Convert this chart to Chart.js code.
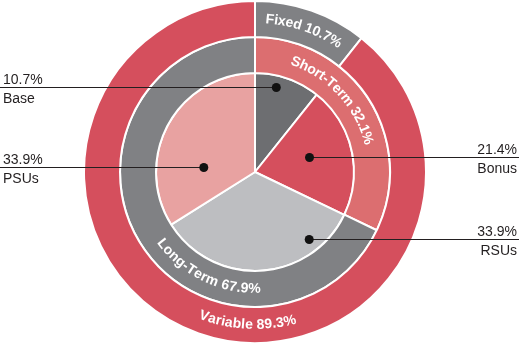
<!DOCTYPE html>
<html>
<head>
<meta charset="utf-8">
<script src="https://cdn.jsdelivr.net/npm/chart.js@4.4.0/dist/chart.umd.min.js"></script>
<style>
  body { margin: 0; background: #fff; }
  #wrap { width: 519px; height: 344px; position: relative; }
</style>
</head>
<body>
<div id="wrap"><canvas id="pay"></canvas></div>
<script>
// values
const outerLabels = ['Fixed', 'Variable'];
const outerValues = [10.7, 89.3];
const middleLabels = ['Short-Term', 'Long-Term'];
const middleValues = [32.1, 67.9];
const innerLabels = ['Base', 'Bonus', 'RSUs', 'PSUs'];
const innerValues = [10.7, 21.4, 33.9, 33.9];

const RED = '#d54f5d';
const GRAY = '#808184';

// where the curved ring labels sit (degrees clockwise from top) and which way they read
const ringText = {
  0: [{ angle: 19, bottom: false }, { angle: 183, bottom: true }],
  1: [{ angle: 47, bottom: false }, { angle: 206, bottom: true }]
};
// dot anchors for the callouts on the inner pie
const callouts = [
  { angle: 14, r: 0.89, side: 'left' },
  { angle: 75, r: 0.57, side: 'right' },
  { angle: 141, r: 0.87, side: 'right' },
  { angle: 276, r: 0.52, side: 'left' }
];

function drawArcText(ctx, text, cx, cy, r, a0, bottom) {
  const total = ctx.measureText(text).width / r;
  let pos = bottom ? a0 + total / 2 : a0 - total / 2;
  for (const ch of text) {
    const w = ctx.measureText(ch).width / r;
    const ang = bottom ? pos - w / 2 : pos + w / 2;
    ctx.save();
    ctx.translate(cx + r * Math.cos(ang), cy + r * Math.sin(ang));
    ctx.rotate(bottom ? ang - Math.PI / 2 : ang + Math.PI / 2);
    ctx.fillText(ch, 0, 0);
    ctx.restore();
    pos = bottom ? pos - w : pos + w;
  }
}

const labelPlugin = {
  id: 'labels',
  afterDatasetsDraw(chart) {
    const ctx = chart.ctx;
    ctx.save();
    // curved ring labels
    ctx.fillStyle = '#fff';
    ctx.font = 'bold 14px "Liberation Sans", Arial, sans-serif';
    ctx.textAlign = 'center';
    ctx.textBaseline = 'middle';
    Object.keys(ringText).forEach(di => {
      const ds = chart.data.datasets[di];
      const meta = chart.getDatasetMeta(di);
      ringText[di].forEach((t, i) => {
        const arc = meta.data[i];
        const r = (arc.innerRadius + arc.outerRadius) / 2;
        const a0 = (t.angle - 90) * Math.PI / 180;
        drawArcText(ctx, ds.labels[i] + ' ' + ds.data[i].toFixed(1) + '%', arc.x, arc.y, r, a0, t.bottom);
      });
    });
    // callouts for the inner pie
    const meta = chart.getDatasetMeta(2);
    ctx.font = '14px "Liberation Sans", Arial, sans-serif';
    ctx.textBaseline = 'alphabetic';
    callouts.forEach((c, i) => {
      const arc = meta.data[i];
      const a = (c.angle - 90) * Math.PI / 180;
      const px = arc.x + arc.outerRadius * c.r * Math.cos(a);
      const py = Math.round(arc.y + arc.outerRadius * c.r * Math.sin(a)) + 0.5;
      const ex = c.side === 'left' ? 0 : chart.width;
      ctx.strokeStyle = '#231f20';
      ctx.lineWidth = 1;
      ctx.beginPath();
      ctx.moveTo(px, py);
      ctx.lineTo(ex, py);
      ctx.stroke();
      ctx.fillStyle = '#111';
      ctx.beginPath();
      ctx.arc(px, py, 4.5, 0, Math.PI * 2);
      ctx.fill();
      ctx.fillStyle = '#231f20';
      ctx.textAlign = c.side === 'left' ? 'left' : 'right';
      const tx = c.side === 'left' ? 3 : chart.width - 2;
      ctx.fillText(innerValues[i].toFixed(1) + '%', tx, py - 4);
      ctx.fillText(innerLabels[i], tx, py + 15);
    });
    ctx.restore();
  }
};

new Chart(document.getElementById('pay'), {
  type: 'pie',
  data: {
    datasets: [{
      labels: outerLabels,
      data: outerValues,
      backgroundColor: [GRAY, RED],
      weight: 36
    }, {
      labels: middleLabels,
      data: middleValues,
      backgroundColor: ['#dc6e70', GRAY],
      weight: 36
    }, {
      labels: innerLabels,
      data: innerValues,
      backgroundColor: ['#6d6e71', RED, '#bdbec1', '#e8a2a1'],
      weight: 99
    }]
  },
  options: {
    responsive: true,
    maintainAspectRatio: false,
    animation: false,
    layout: { padding: { right: 9 } },
    borderColor: '#fff',
    borderWidth: 2,
    hoverOffset: 0,
    elements: { arc: { borderColor: '#fff', borderWidth: 2 } },
    plugins: { legend: { display: false }, tooltip: { enabled: false } }
  },
  plugins: [labelPlugin]
});
</script>
</body>
</html>
